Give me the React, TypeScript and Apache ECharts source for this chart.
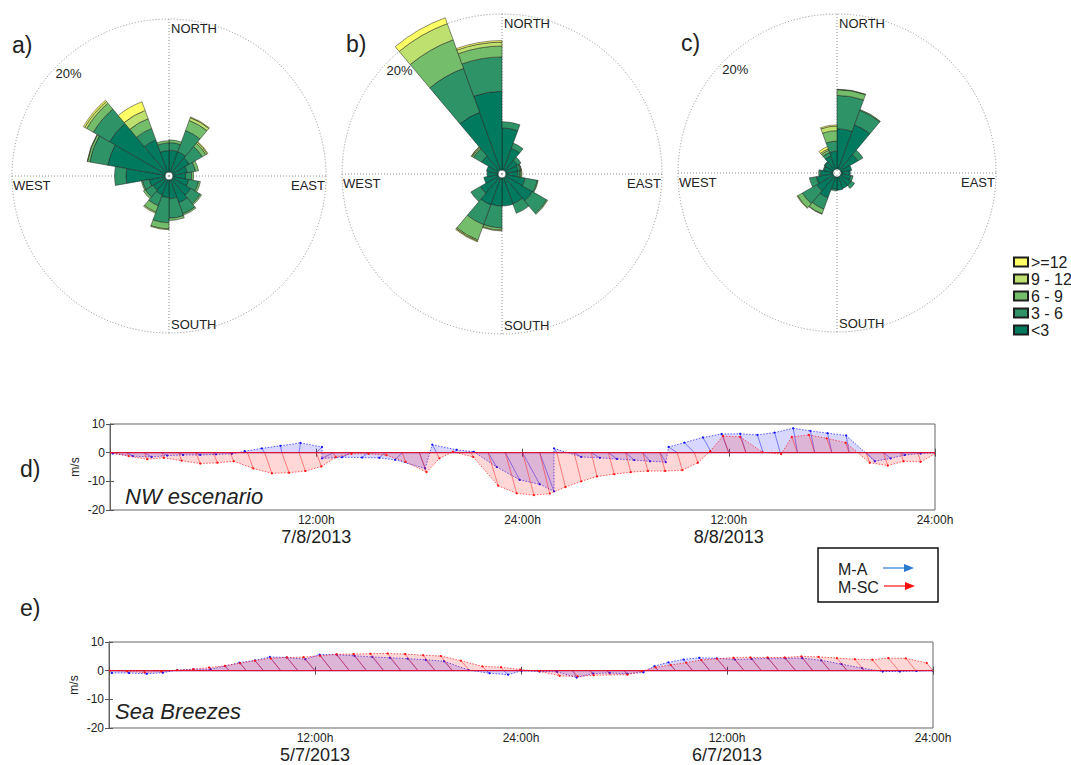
import React, { useEffect, useRef } from 'react';
import * as echarts from 'echarts';

// ---------- Wind roses ----------
const DIRECTION_BINS = ['0', '20', '40', '60', '80', '100', '120', '140', '160', '180', '200', '220', '240', '260', '280', '300', '320', '340'];
const SPEED_CLASSES = ['<3', '3 - 6', '6 - 9', '9 - 12', '>=12'];
const LEGEND_ORDER = ['>=12', '9 - 12', '6 - 9', '3 - 6', '<3'];
const CLASS_COLORS = ['#007a5e', '#2e9468', '#74bd6a', '#bde06e', '#ffff66'];
const DIR_LABELS = ['NORTH', 'EAST', 'SOUTH', 'WEST'];
const RING_LABEL = '20%';

// rose a) (% frequency per 20° sector, per speed class)
const A_LT3 = [2.85, 2.85, 2.55, 1.9, 1.65, 2.1, 2.75, 3.2, 2.45, 2.3, 2.1, 1.9, 2.1, 5.1, 7.6, 8.45, 4.5, 2.8];
const A_3_6 = [1.0, 2.95, 1.95, 1.1, 0.8, 1.3, 1.45, 1.55, 2.55, 3.3, 1.5, 1.15, 0.9, 1.5, 2.4, 2.45, 1.6, 1.0];
const A_6_9 = [0.35, 1.4, 0.55, 0.4, 0.25, 0.25, 0.2, 0.2, 0.3, 0.8, 0.9, 0.3, 0.15, 0, 0.3, 1.0, 1.35, 0.3];
const A_9_12 = [0, 0.4, 0.2, 0, 0, 0, 0, 0, 0, 0.1, 0.15, 0, 0, 0, 0.05, 0.3, 1.15, 0];
const A_GE12 = [0, 0.1, 0.1, 0, 0, 0, 0, 0, 0, 0, 0, 0, 0, 0, 0, 0.2, 1.2, 0];

// rose b)
const B_LT3 = [5.4, 3.0, 1.8, 1.6, 1.5, 2.5, 4.0, 3.55, 3.6, 3.6, 3.7, 2.7, 1.85, 1.4, 1.5, 2.5, 7.9, 10.1];
const B_3_6 = [0.8, 0.7, 0.5, 0.3, 0.3, 1.6, 2.1, 1.3, 0, 2.8, 2.7, 1.4, 0, 0, 0, 1.2, 6.0, 4.4];
const B_6_9 = [0, 0, 0, 0.1, 0.15, 0.1, 0.15, 0, 0, 0.3, 2.1, 0, 0, 0, 0, 0.2, 3.9, 1.4];
const B_9_12 = [0, 0, 0, 0.05, 0.1, 0, 0, 0, 0, 0.1, 0.15, 0, 0, 0, 0, 0.1, 2.2, 0.5];
const B_GE12 = [0, 0, 0, 0, 0, 0, 0, 0, 0, 0, 0.1, 0, 0, 0, 0, 0.05, 0.8, 0.2];

// rose c)
const C_LT3 = [5.2, 6.1, 2.6, 1.4, 1.2, 1.3, 1.6, 1.6, 1.7, 1.6, 2.9, 2.5, 2.2, 1.6, 1.2, 1.3, 1.8, 2.3];
const C_3_6 = [4.3, 2.0, 0.75, 0, 0, 0.3, 0.5, 0, 0, 0.2, 1.55, 2.15, 0.9, 0.25, 0.1, 0.1, 0.5, 1.3];
const C_6_9 = [0.75, 0.1, 0, 0, 0, 0, 0, 0, 0, 0, 0.65, 0.7, 0, 0, 0, 0, 0.3, 1.35];
const C_9_12 = [0.05, 0, 0, 0, 0, 0, 0, 0, 0, 0, 0.05, 0.1, 0, 0, 0, 0, 0.2, 0.6];
const C_GE12 = [0, 0, 0, 0, 0, 0, 0, 0, 0, 0, 0, 0, 0, 0, 0, 0, 0.3, 0.15];

// ---------- Stick plots (hourly u, v in m/s) ----------
const HOURS = [0, 1, 2, 3, 4, 5, 6, 7, 8, 9, 10, 11, 12, 13, 14, 15, 16, 17, 18, 19, 20, 21, 22, 23, 24, 25, 26, 27, 28, 29, 30, 31, 32, 33, 34, 35, 36, 37, 38, 39, 40, 41, 42, 43, 44, 45, 46, 47, 48];
const TIME_TICKS = [0, 12, 24, 36, 48];
const TIME_TICK_LABELS = ['', '12:00h', '24:00h', '12:00h', '24:00h'];

// d) NW escenario
const D_MA_U = [1.0, 2.0, 2.5, 2.0, 1.5, 1.5, 1.0, 0.5, -1.0, -1.0, -0.5, 0.5, 2.0, -4.0, -3.0, -2.0, -2.0, -2.5, 2.0, -1.5, 1.0, 1.0, 3.0, 5.0, 6.0, 5.0, -1.0, 2.5, 3.0, 3.0, 3.0, 2.5, 2.0, -3.0, -3.5, -3.0, -2.5, -2.0, -2.0, -2.0, -1.5, -1.5, -1.5, -1.0, 3.0, 2.5, 1.5, 1.0, 0.5];
const D_MA_V = [-0.3, -1.2, -1.5, -1.0, -0.8, -0.8, -0.6, -0.4, 0.5, 1.5, 2.4, 3.4, 2.0, -2.0, -1.6, -1.7, -1.8, -2.5, -5.5, 2.8, 1.0, 0.3, -5.0, -9.5, -11.0, -13.5, 1.5, -1.5, -1.8, -2.2, -2.6, -3.0, -3.3, 2.0, 3.5, 5.3, 6.5, 6.6, 6.2, 7.0, 8.5, 7.6, 6.8, 6.0, -3.0, -2.0, -0.8, -0.3, 0];
const D_MSC_U = [0, 0.5, 1.0, 0.8, 1.0, 1.5, 1.5, 1.2, 2.0, 2.5, 2.5, 2.2, 1.8, 0.8, 0.3, 0.3, 0.5, 1.2, 2.5, 1.0, -0.3, 0.8, 3.5, 4.0, 4.0, 3.5, 3.0, 2.5, 2.0, 2.0, 1.8, 1.8, 1.8, 1.8, 1.2, -0.5, -2.0, -2.0, -0.3, 0.3, -2.0, -2.0, -1.8, -1.2, 1.2, 1.5, 1.0, 1.0, 0.2];
const D_MSC_V = [0, -1.2, -2.3, -1.8, -2.8, -3.8, -3.5, -3.0, -5.5, -7.2, -7.0, -6.4, -4.8, -1.6, -0.4, -0.4, -0.9, -3.2, -6.8, -2.0, 0.3, -1.5, -11.5, -14.2, -14.8, -14.3, -12.0, -10.0, -8.3, -7.5, -6.8, -6.4, -6.4, -6.1, -3.5, 0.5, 5.8, 5.5, 0.2, -0.5, 5.5, 6.2, 5.0, 3.5, -3.5, -4.5, -3.0, -3.2, -0.3];

// e) Sea Breezes
const E_MA_U = [1.0, 1.0, 1.2, 0.8, -0.2, -0.5, -0.5, -1.4, -2.4, -3.0, -3.8, -3.8, -3.4, -4.4, -4.4, -4.2, -4.0, -3.8, -3.6, -3.3, -2.9, -0.3, 1.0, 1.5, 0.3, 0.5, 0.6, 1.5, 1.2, 1.0, 1.2, 0.8, -1.4, -2.5, -3.2, -3.7, -3.6, -3.3, -3.4, -3.6, -3.6, -3.7, -3.1, -2.0, -0.8, 0.4, 0.4, 0.2, 0];
const E_MA_V = [-0.8, -0.8, -1.1, -0.7, 0.2, 0.5, 0.5, 1.6, 2.8, 3.6, 4.8, 4.6, 4.0, 5.6, 5.6, 5.2, 4.8, 4.5, 4.2, 3.8, 3.3, 0.2, -0.9, -1.4, 0, -0.3, -0.4, -2.4, -1.0, -0.8, -1.1, -0.6, 1.6, 2.9, 3.9, 4.5, 4.3, 3.9, 4.1, 4.3, 4.3, 4.4, 3.6, 2.3, 0.9, -0.3, -0.3, -0.1, 0];
const E_MSC_U = [0.3, 0.3, 0.5, 0.3, -0.2, -0.5, -1.0, -1.5, -2.2, -3.0, -3.5, -3.8, -4.0, -4.2, -4.5, -4.5, -4.6, -4.6, -4.5, -4.2, -4.0, -3.0, -1.5, -1.0, -0.3, 0.3, 1.5, 1.8, 1.4, 1.3, 1.2, 0.2, -1.0, -1.7, -2.3, -3.0, -3.5, -3.7, -3.8, -3.8, -3.8, -4.0, -4.0, -3.6, -3.3, -3.2, -3.6, -3.5, -2.2];
const E_MSC_V = [0, -0.2, -0.6, -0.3, 0.2, 0.5, 1.1, 1.7, 2.6, 3.5, 4.3, 4.6, 4.7, 5.2, 5.7, 5.8, 5.9, 6.0, 5.8, 5.4, 5.1, 3.5, 1.5, 1.2, 0.4, -0.2, -1.8, -2.0, -1.6, -1.5, -1.4, -0.2, 1.2, 2.0, 2.8, 3.7, 4.2, 4.5, 4.6, 4.6, 4.6, 5.0, 4.8, 4.4, 4.0, 3.8, 4.4, 4.3, 2.7];

const FONT = '"Liberation Sans", Arial, sans-serif';
const TEXT_COLOR = '#222';
const DOT_LINE = { color: '#8f8f8f', width: 1, type: [1, 2] as any };
const HOLE = 4;

const ROSES = [
  { label: 'a)', labelPos: [12, 45], cx: 169, cy: 176, r: 157, classes: [A_LT3, A_3_6, A_6_9, A_9_12, A_GE12] },
  { label: 'b)', labelPos: [346, 44], cx: 502, cy: 174, r: 160, classes: [B_LT3, B_3_6, B_6_9, B_9_12, B_GE12] },
  { label: 'c)', labelPos: [681, 43], cx: 837, cy: 173, r: 159, classes: [C_LT3, C_3_6, C_6_9, C_9_12, C_GE12] },
];

const PANELS = [
  { grid: { left: 110, top: 424, width: 825, height: 86 }, tag: 'd)', tagPos: [20, 469], title: 'NW escenario', titlePos: [125, 496], dates: ['7/8/2013', '8/8/2013'], dateY: 537, ma: [D_MA_U, D_MA_V], msc: [D_MSC_U, D_MSC_V] },
  { grid: { left: 109, top: 642, width: 824, height: 86 }, tag: 'e)', tagPos: [20, 608], title: 'Sea Breezes', titlePos: [115, 711], dates: ['5/7/2013', '6/7/2013'], dateY: 755, ma: [E_MA_U, E_MA_V], msc: [E_MSC_U, E_MSC_V] },
];

function text(x: number, y: number, str: string, size: number, align = 'left', vAlign = 'middle', extra: any = {}) {
  return {
    type: 'text', x, y, silent: true,
    style: { text: str, fill: TEXT_COLOR, font: `${extra.italic ? 'italic ' : ''}${size}px ${FONT}`, textAlign: align, textVerticalAlign: vAlign },
  };
}

function stickSeries(name: string, color: string, axisIndex: number, u: number[], v: number[]) {
  return {
    type: 'custom', name, xAxisIndex: axisIndex * 2, yAxisIndex: axisIndex * 2,
    data: HOURS.map((t, i) => [t, u[i], v[i]]),
    encode: { x: 0, y: 2 },
    silent: true,
    clip: true,
    renderItem: (params: any, api: any) => {
      const perUnit = api.size([0, 1])[1];
      const tipOf = (idx?: number) => {
        const t = api.value(0, idx);
        const uu = api.value(1, idx);
        const vv = api.value(2, idx);
        const base = api.coord([t, 0]);
        const top = api.coord([t, vv]);
        return { base, tip: [base[0] + uu * perUnit, top[1]] };
      };
      const cur = tipOf();
      const children: any[] = [];
      const i = params.dataIndexInside;
      let nxt: any = null;
      if (i < params.dataInsideLength - 1) {
        nxt = tipOf(i + 1);
        children.push({
          type: 'polygon',
          shape: { points: [cur.base, cur.tip, nxt.tip, nxt.base] },
          style: { fill: color, opacity: 0.17 },
        });
      }
      children.push({ type: 'line', shape: { x1: cur.base[0], y1: cur.base[1], x2: cur.tip[0], y2: cur.tip[1] }, style: { stroke: color, lineWidth: 0.7, opacity: 0.7 } });
      if (nxt) {
        children.push({ type: 'line', shape: { x1: cur.tip[0], y1: cur.tip[1], x2: nxt.tip[0], y2: nxt.tip[1] }, style: { stroke: color, lineWidth: 0.9, opacity: 0.75, lineDash: [1.5, 1.5] } });
        children.push({ type: 'line', shape: { x1: cur.base[0], y1: cur.base[1], x2: nxt.base[0], y2: nxt.base[1] }, style: { stroke: color, lineWidth: 1 } });
      }
      children.push({ type: 'circle', shape: { cx: cur.tip[0], cy: cur.tip[1], r: 1.1 }, style: { fill: color } });
      return { type: 'group', children };
    },
  };
}

function buildOption() {
  const polar: any[] = [];
  const angleAxis: any[] = [];
  const radiusAxis: any[] = [];
  const series: any[] = [];
  const graphic: any[] = [];

  ROSES.forEach((rose, k) => {
    const gi = k * 2;
    const bi = k * 2 + 1;
    polar.push({ center: [rose.cx, rose.cy], radius: [0, rose.r] });
    polar.push({ center: [rose.cx, rose.cy], radius: [HOLE, rose.r] });
    angleAxis.push({
      polarIndex: gi, type: 'value', min: 0, max: 360, interval: 90, startAngle: 90, clockwise: true,
      axisLine: { show: true, lineStyle: DOT_LINE }, splitLine: { show: true, lineStyle: DOT_LINE },
      axisTick: { show: false }, axisLabel: { show: false },
    });
    radiusAxis.push({ polarIndex: gi, type: 'value', min: 0, max: 20, show: false });
    angleAxis.push({ polarIndex: bi, type: 'category', data: DIRECTION_BINS, startAngle: 90, clockwise: true, boundaryGap: true, show: false });
    radiusAxis.push({ polarIndex: bi, type: 'value', min: 0, max: 20, show: false });
    rose.classes.forEach((vals, c) => {
      series.push({
        type: 'bar', coordinateSystem: 'polar', polarIndex: bi, name: SPEED_CLASSES[c], stack: 'rose' + k,
        data: vals.map((v) => (v > 0 ? v : '-')), barCategoryGap: '0%', clip: false, silent: true,
        itemStyle: { color: CLASS_COLORS[c], borderColor: '#1e1e1e', borderWidth: 0.5 },
      });
    });
    const { cx, cy, r } = rose;
    graphic.push(text(rose.labelPos[0], rose.labelPos[1], rose.label, 23));
    graphic.push(text(cx + 2, cy - r + 3, DIR_LABELS[0], 13, 'left', 'top'));
    graphic.push(text(cx + r - 1, cy + 3, DIR_LABELS[1], 13, 'right', 'top'));
    graphic.push(text(cx + 2, cy + r - 2, DIR_LABELS[2], 13, 'left', 'bottom'));
    graphic.push(text(cx - r + 1, cy + 3, DIR_LABELS[3], 13, 'left', 'top'));
    graphic.push(text(cx - 0.64 * r, cy - 0.65 * r, RING_LABEL, 13, 'center', 'middle'));
  });

  const grid: any[] = [];
  const xAxis: any[] = [];
  const yAxis: any[] = [];
  const axisLine = { show: true, lineStyle: { color: '#666', width: 1 } };
  PANELS.forEach((p, k) => {
    grid.push({ ...p.grid, show: true, borderColor: '#666', borderWidth: 1, backgroundColor: 'transparent' });
    xAxis.push({
      gridIndex: k, type: 'value', min: 0, max: 48, interval: 12, position: 'bottom',
      axisLine, axisTick: { inside: true, length: 4, lineStyle: { color: '#555' } }, splitLine: { show: false },
      axisLabel: { fontSize: 12, color: TEXT_COLOR, fontFamily: FONT, margin: 4, formatter: (v: number) => TIME_TICK_LABELS[TIME_TICKS.indexOf(v)] ?? '' },
    });
    xAxis.push({
      gridIndex: k, type: 'value', min: 0, max: 48, interval: 12, position: 'top',
      axisLine, axisTick: { inside: true, length: 4, lineStyle: { color: '#555' } }, splitLine: { show: false }, axisLabel: { show: false },
    });
    yAxis.push({
      gridIndex: k, type: 'value', min: -20, max: 10, interval: 10, position: 'left',
      name: 'm/s', nameLocation: 'middle', nameGap: 29, nameMoveOverlap: false,
      nameTextStyle: { fontSize: 12, color: TEXT_COLOR, fontFamily: FONT },
      axisLine, axisTick: { inside: true, length: 4, lineStyle: { color: '#555' } }, splitLine: { show: false },
      axisLabel: { fontSize: 12, color: TEXT_COLOR, fontFamily: FONT, margin: 5 },
    });
    yAxis.push({
      gridIndex: k, type: 'value', min: -20, max: 10, interval: 10, position: 'right',
      axisLine, axisTick: { inside: true, length: 4, lineStyle: { color: '#555' } }, splitLine: { show: false }, axisLabel: { show: false },
    });
    series.push(stickSeries('M-A', '#1414ff', k, p.ma[0], p.ma[1]));
    series.push(stickSeries('M-SC', '#ff1414', k, p.msc[0], p.msc[1]));
    graphic.push(text(p.tagPos[0], p.tagPos[1], p.tag, 23));
    graphic.push(text(p.titlePos[0], p.titlePos[1], p.title, 22, 'left', 'middle', { italic: true }));
    const left = p.grid.left;
    const w = p.grid.width;
    graphic.push(text(left + (w * 12) / 48, p.dateY, p.dates[0], 18, 'center', 'middle'));
    graphic.push(text(left + (w * 36) / 48, p.dateY, p.dates[1], 18, 'center', 'middle'));
  });

  // M-A / M-SC key
  graphic.push({ type: 'rect', shape: { x: 818, y: 548, width: 120, height: 54 }, style: { fill: '#fff', stroke: '#111', lineWidth: 1.5 }, silent: true });
  graphic.push(text(838, 569, 'M-A', 16));
  graphic.push(text(838, 587, 'M-SC', 16));
  graphic.push({ type: 'line', shape: { x1: 883, y1: 568, x2: 906, y2: 568 }, style: { stroke: '#2a7ad0', lineWidth: 1.2 }, silent: true });
  graphic.push({ type: 'polygon', shape: { points: [[904, 564], [914, 568], [904, 572]] }, style: { fill: '#2a7ad0' }, silent: true });
  graphic.push({ type: 'line', shape: { x1: 884, y1: 586, x2: 907, y2: 586 }, style: { stroke: '#ff1010', lineWidth: 1.2 }, silent: true });
  graphic.push({ type: 'polygon', shape: { points: [[905, 582], [915, 586], [905, 590]] }, style: { fill: '#ff1010' }, silent: true });

  return {
    animation: false,
    backgroundColor: '#fff',
    polar, angleAxis, radiusAxis, grid, xAxis, yAxis, series, graphic,
    legend: {
      data: LEGEND_ORDER, orient: 'vertical', left: 1008, top: 249, icon: 'rect',
      itemWidth: 14, itemHeight: 9, itemGap: 1, selectedMode: false,
      textStyle: { fontSize: 16, color: TEXT_COLOR, fontFamily: FONT, lineHeight: 15, padding: [0, 0, 0, -2] },
    },
  };
}

export default function App() {
  const ref = useRef<HTMLDivElement>(null);
  useEffect(() => {
    const chart = echarts.init(ref.current!, undefined, { renderer: 'svg' });
    chart.setOption(buildOption() as any);
    return () => chart.dispose();
  }, []);
  return <div ref={ref} style={{ position: 'fixed', left: 0, top: 0, width: 1071, height: 765, background: '#fff' }} />;
}
